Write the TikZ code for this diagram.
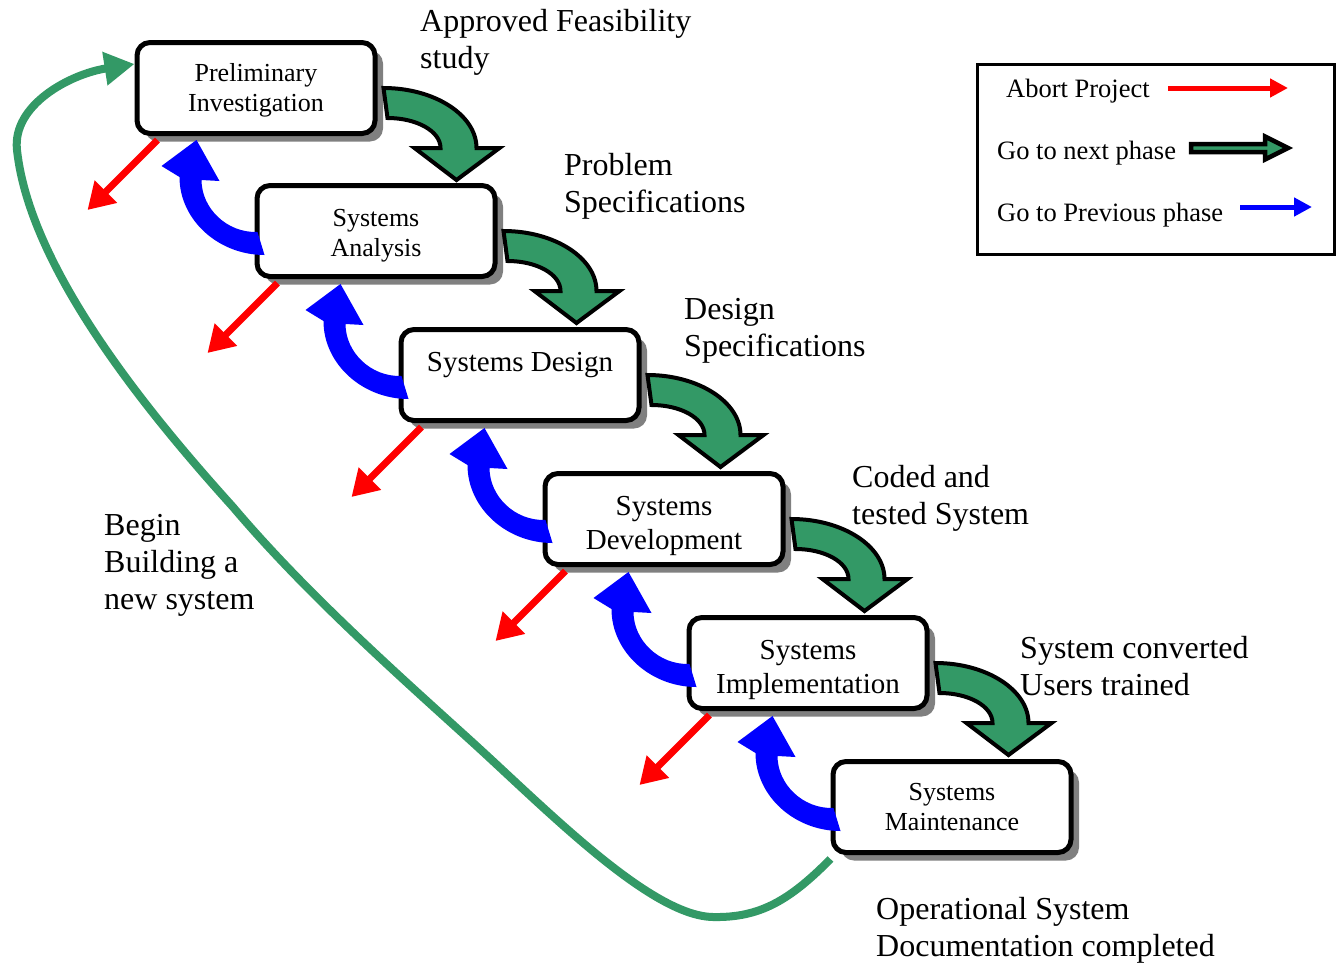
\documentclass[tikz,border=0pt]{standalone}
\usepackage{fontspec}
\setmainfont{Liberation Serif}
\usetikzlibrary{arrows.meta,shadows}

\definecolor{seagreen}{RGB}{51,153,102}

\tikzset{
  phase/.style={draw, line width=5pt, rounded corners=13pt, fill=white,
    minimum width=238pt, minimum height=91pt, inner sep=0pt, align=center,
    font=\fontsize{26}{30}\selectfont,
    drop shadow={shadow xshift=8pt, shadow yshift=-8pt, fill=black!50, opacity=1}},
  bigtext/.style={font=\fontsize{29}{34}\selectfont},
  note/.style={anchor=west, align=left, inner sep=0pt, font=\fontsize{32}{37}\selectfont},
  keytext/.style={anchor=west, inner sep=0pt, font=\fontsize{26.5}{30}\selectfont},
  nextarrow/.style={fill=seagreen, draw=black, line width=4pt, line join=miter},
  backarrow/.style={fill=blue},
  abort/.style={red, line width=7pt, -{Triangle[length=26pt,width=30pt]}},
  restart/.style={seagreen, line width=8pt, -{Triangle[length=30pt,width=32pt]}},
  keyarrow/.style={line width=5pt, -{Triangle[length=18pt,width=18pt]}}
}

\begin{document}
\begin{tikzpicture}[x=1pt, y=-1pt]
\useasboundingbox (0,0) rectangle (1344,964);

\node[phase, text height=52pt] (prelim) at (256,88) {Preliminary\\Investigation};
\node[phase, text height=56pt] (analysis) at (376,231) {Systems\\Analysis};
\node[phase, bigtext, text depth=26pt] (design) at (520,375) {Systems Design};
\node[phase, bigtext, text height=68pt] (devel) at (664,519) {Systems\\Development};
\node[phase, bigtext, text height=68pt] (impl) at (808,663) {Systems\\Implementation};
\node[phase] (maint) at (952,807) {Systems\\Maintenance};

\foreach \up/\lo in {prelim/analysis, analysis/design, design/devel, devel/impl, impl/maint} {
  \draw[nextarrow, shift={(\up.east)}] (6,0) .. controls (57,0) and (99,27) .. (99,60)
    -- (122,60) -- (79,92) -- (37,60) -- (63,60) .. controls (63,43) and (39,30) .. (10,30) -- cycle;
  \fill[backarrow, shift={(\lo.west)}] (10,24) .. controls (-36,24) and (-75,-11) .. (-75,-54)
    -- (-93,-65) -- (-58,-91) -- (-35,-50) -- (-53,-51) .. controls (-53,-23) and (-28,2) .. (3,1) -- cycle;
  \coordinate (out\up) at ([shift={(-47,74)}]\up.south west);
  \draw[abort] ([shift={(23,4)}]\up.south west) -- (out\up);
}

\coordinate (loopin) at ([shift={(0,-24)}]prelim.west);
\draw[restart] ([shift={(0,4)}]maint.south west) .. controls (790,900) and (760,918) .. (713,917)
  .. controls (650,916) and (545,808) .. (470,740)
  .. controls (395,672) and (305,592) .. (233,507)
  .. controls (150,415) and (30,270) .. (17,150)
  .. controls (12,105) and (70,74) .. (loopin);

\node[note] (feas) at (420,42) {Approved Feasibility\\study};
\node[note] (probspec) at (564,186) {Problem\\Specifications};
\node[note] (desspec) at (684,331) {Design\\Specifications};
\node[note] (coded) at (852,498) {Coded and\\tested System};
\node[note] (converted) at (1020,666) {System converted\\Users trained};
\node[note] (operational) at (876,930) {Operational System\\Documentation completed};
\node[note] (begin) at (104,565) {Begin\\Building a\\new system};

\node[draw, line width=3pt, minimum width=357pt, minimum height=190pt, inner sep=0pt] (legend) at (1156,159.5) {};
\node[keytext] (kabort) at (1006,91) {Abort Project};
\node[keytext] (knext) at (997,153) {Go to next phase};
\node[keytext] (kprev) at (997,215) {Go to Previous phase};
\coordinate (kabortA) at (1168,88);
\coordinate (kabortB) at (1288,88);
\draw[keyarrow, red] (kabortA) -- (kabortB);
\draw[nextarrow, line width=4.5pt] (1191,144) -- (1265,144) -- (1265,136.5) -- (1288,148)
  -- (1265,159.5) -- (1265,152) -- (1191,152) -- cycle;
\coordinate (kprevA) at (1240,207);
\coordinate (kprevB) at (1312,207);
\draw[keyarrow, blue] (kprevA) -- (kprevB);
\end{tikzpicture}
\end{document}
